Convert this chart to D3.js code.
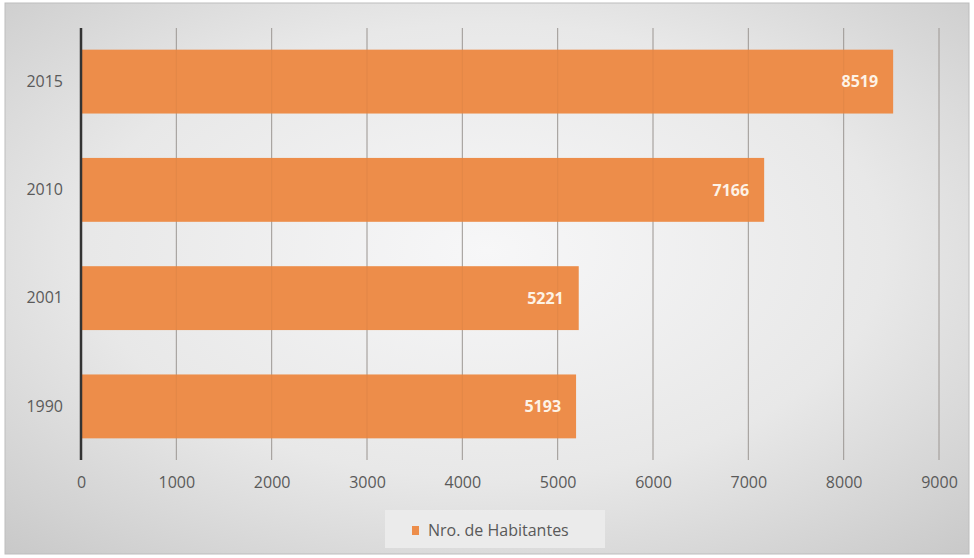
<!DOCTYPE html>
<html><head><meta charset="utf-8">
<script src="https://cdn.jsdelivr.net/npm/d3@7"></script>
<style>html,body{margin:0;padding:0;background:#fff;}svg{display:block;}</style>
</head><body>
<svg id="c" width="974" height="558"></svg>
<script>
const categories = ["2015", "2010", "2001", "1990"];
const values = [8519, 7166, 5221, 5193];
const tickValues = [0, 1000, 2000, 3000, 4000, 5000, 6000, 7000, 8000, 9000];
const seriesName = "Nro. de Habitantes";

const svg = d3.select("#c");
const W = 974, H = 558;
const font = "'Open Sans', 'Noto Sans', sans-serif";

const defs = svg.append("defs");
const rg = defs.append("radialGradient").attr("id", "bg")
  .attr("cx", "50%").attr("cy", "45%").attr("r", "75%");
rg.append("stop").attr("offset", "0%").attr("stop-color", "#f7f7f8");
rg.append("stop").attr("offset", "55%").attr("stop-color", "#e8e8e8");
rg.append("stop").attr("offset", "100%").attr("stop-color", "#c8c8c8");

svg.append("rect").attr("x", 5).attr("y", 3).attr("width", W - 10).attr("height", H - 7)
  .attr("fill", "url(#bg)").attr("stroke", "#bdbdbd").attr("stroke-width", 1);

const m = { left: 81, right: 35, top: 28, bottom: 98 };
const x = d3.scaleLinear().domain([0, 9000]).range([m.left, 939]);
const y = d3.scaleBand().domain(categories).range([m.top, H - m.bottom]).paddingInner(0.41).paddingOuter(0.2);

// gridlines
svg.append("g").selectAll("line").data(tickValues.filter(v => v > 0)).join("line")
  .attr("x1", d => x(d)).attr("x2", d => x(d))
  .attr("y1", m.top).attr("y2", H - m.bottom)
  .attr("stroke", "#a2a2a2").attr("stroke-width", 1);

// bars
svg.append("g").selectAll("rect").data(categories).join("rect")
  .attr("x", x(0)).attr("y", d => y(d))
  .attr("width", (d, i) => x(values[i]) - x(0))
  .attr("height", y.bandwidth())
  .attr("fill", "#ed8d4a");

// faint gridlines over bars
svg.append("g").selectAll("line").data(tickValues.filter(v => v > 0)).join("line")
  .attr("x1", d => x(d)).attr("x2", d => x(d))
  .attr("y1", m.top).attr("y2", H - m.bottom)
  .attr("stroke", "#8c5a30").attr("stroke-opacity", 0.1).attr("stroke-width", 1);

// bar labels
svg.append("g").selectAll("text").data(categories).join("text")
  .attr("x", (d, i) => x(values[i]) - 15)
  .attr("y", d => y(d) + y.bandwidth() / 2)
  .attr("dy", "0.36em").attr("text-anchor", "end")
  .attr("font-family", font).attr("font-size", 16).attr("font-weight", "bold")
  .attr("fill", "#fdf3e6")
  .text((d, i) => values[i]);

// x axis labels
const xa = svg.append("g").attr("transform", `translate(0,${H - m.bottom})`)
  .call(d3.axisBottom(x).tickValues(tickValues).tickSize(0).tickPadding(17).tickFormat(d3.format("d")));
xa.select(".domain").remove();
xa.selectAll("text").attr("font-family", font).attr("font-size", 16).attr("fill", "#5a5a5a");

// y axis
const ya = svg.append("g").attr("transform", `translate(${m.left},0)`)
  .call(d3.axisLeft(y).tickSize(0).tickPadding(18));
ya.select(".domain").remove();
ya.selectAll("text").attr("font-family", font).attr("font-size", 16).attr("fill", "#5a5a5a");
svg.append("line").attr("x1", m.left).attr("x2", m.left).attr("y1", m.top).attr("y2", H - m.bottom)
  .attr("stroke", "#333").attr("stroke-width", 2.5);

// legend
const lg = svg.append("g");
lg.append("rect").attr("x", 385).attr("y", 510).attr("width", 220).attr("height", 38)
  .attr("fill", "#ececec").attr("fill-opacity", 0.9);
lg.append("rect").attr("x", 412).attr("y", 526).attr("width", 7).attr("height", 9).attr("fill", "#ed8d4a");
lg.append("text").attr("x", 428).attr("y", 530.5).attr("dy", "0.36em")
  .attr("font-family", font).attr("font-size", 16).attr("fill", "#595959").text(seriesName);
</script>
</body></html>
